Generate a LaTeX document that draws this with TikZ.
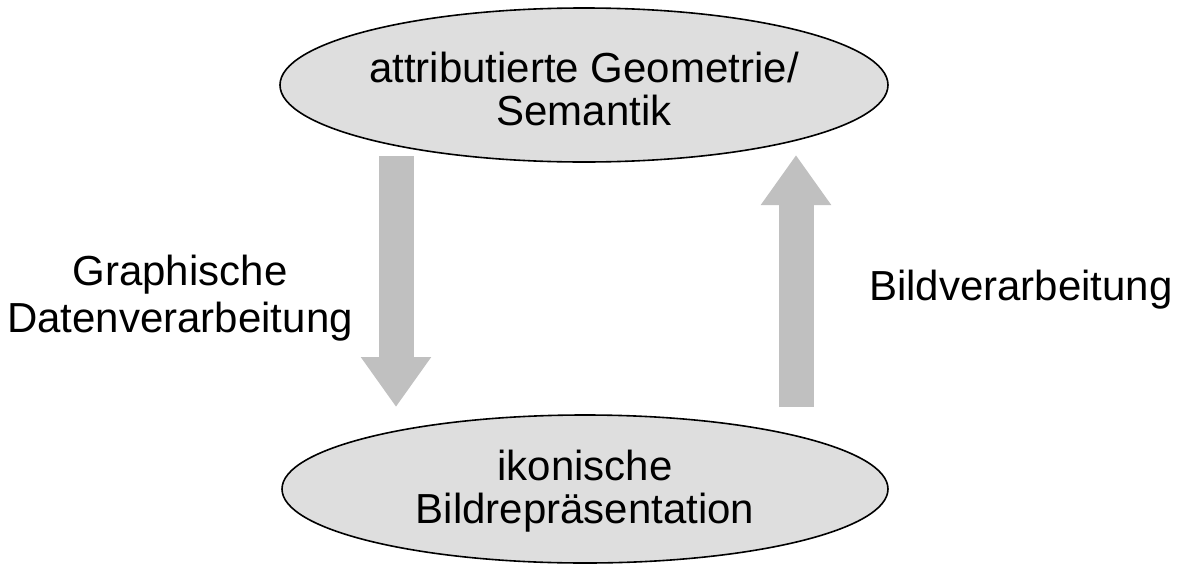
\documentclass[tikz,border=0pt]{standalone}
\usepackage{fontspec}
\setmainfont{Liberation Sans}
\usetikzlibrary{shapes.geometric,arrows.meta}
\definecolor{ellfill}{HTML}{DEDEDE}
\definecolor{arrgray}{HTML}{C0C0C0}
\newcommand{\elltext}[2]{\raisebox{-#1}[\height][\depth]{\begin{tabular}{@{}c@{}}#2\end{tabular}}}
\tikzset{
  ell/.style={draw=black, line width=1.6pt, fill=ellfill, ellipse, inner sep=0pt,
    font=\fontsize{42}{43}\selectfont},
  bigarrow/.style={draw=arrgray, line width=35pt,
    -{Triangle[width=67pt,length=50pt]}},
  lbl/.style={align=center, font=\fontsize{42}{47}\selectfont, inner sep=0pt}
}
\begin{document}
\begin{tikzpicture}[x=1pt,y=-1pt]
\useasboundingbox (0,0) rectangle (1179,568);
\node[ell, minimum width=608pt, minimum height=154pt] (top) at (584,85) {\elltext{10pt}{attributierte Geometrie/\\Semantik}};
\node[ell, minimum width=606pt, minimum height=148pt] (bot) at (585,489) {\elltext{4.5pt}{ikonische\\Bildrepräsentation}};
\coordinate (dstart) at (396,156);
\coordinate (dend) at (396,407);
\coordinate (ustart) at (796,407);
\coordinate (uend) at (796,155);
\draw[bigarrow] (dstart) -- (dend);
\draw[bigarrow] (ustart) -- (uend);
\node[lbl] (gd) at (180,298) {Graphische\\Datenverarbeitung};
\node[lbl] (bv) at (1021,290) {Bildverarbeitung};
\end{tikzpicture}
\end{document}
